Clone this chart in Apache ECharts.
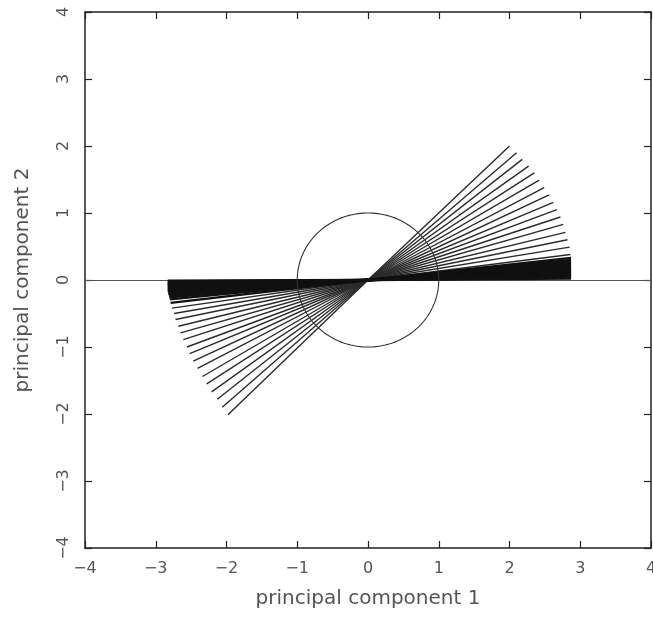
<!DOCTYPE html>
<html>
<head>
<meta charset="utf-8">
<script src="https://cdn.jsdelivr.net/npm/echarts@6/dist/echarts.min.js"></script>
<style>
  html, body { margin: 0; padding: 0; background: #fff; }
  #chart { width: 653px; height: 627px; }
</style>
</head>
<body>
<div id="chart"></div>
<script>
// axis ticks
var axisTicks = [-4, -3, -2, -1, 0, 1, 2, 3, 4];

// upper right fan: end points of the lines drawn from the origin
var upperX = [2.00, 2.10, 2.18, 2.27, 2.35, 2.42, 2.49, 2.56, 2.62, 2.67, 2.72, 2.76, 2.79, 2.82, 2.85, 2.86,
              2.87, 2.87, 2.87, 2.87, 2.87, 2.87, 2.87, 2.87, 2.87, 2.87, 2.87, 2.87, 2.87, 2.87,
              2.87, 2.87, 2.87, 2.87, 2.87, 2.87, 2.87, 2.87, 2.87, 2.87];
var upperY = [2.00, 1.90, 1.80, 1.70, 1.60, 1.49, 1.38, 1.27, 1.16, 1.05, 0.94, 0.83, 0.71, 0.60, 0.49, 0.38,
              0.33, 0.30, 0.28, 0.26, 0.245, 0.23, 0.215, 0.20, 0.185, 0.17, 0.16, 0.15, 0.14, 0.13,
              0.12, 0.11, 0.10, 0.09, 0.08, 0.07, 0.06, 0.05, 0.035, 0.02];

// lower left fan
var lowerX = [-1.98, -2.06, -2.13, -2.21, -2.28, -2.34, -2.41, -2.47, -2.52, -2.56, -2.61, -2.65, -2.68, -2.72, -2.74, -2.77, -2.79,
              -2.80, -2.81, -2.81, -2.82, -2.82, -2.82, -2.83, -2.83, -2.83, -2.83, -2.83, -2.83, -2.83, -2.83,
              -2.83, -2.83, -2.83, -2.83, -2.83];
var lowerY = [-2.01, -1.90, -1.78, -1.67, -1.55, -1.44, -1.32, -1.21, -1.10, -1.00, -0.89, -0.79, -0.69, -0.59, -0.50, -0.42, -0.34,
              -0.29, -0.26, -0.235, -0.215, -0.20, -0.185, -0.17, -0.155, -0.14, -0.125, -0.11, -0.095, -0.08, -0.07,
              -0.06, -0.05, -0.035, -0.02, -0.01];

// unit circle and zero line
var circleRadius = 1;
var zeroLine = [[-4, 0], [4, 0]];

var labelFont = 'DejaVu Sans';
var inkColor = '#222';
var textColor = '#555';

function buildFan(xs, ys) {
	var out = [];
	for (var i = 0; i < xs.length; i++) {
		// the near-horizontal lines print heavier in the original, they merge into a black band
		var flat = Math.abs(ys[i]) < 0.36;
		out.push({
			coords: [[0, 0], [xs[i], ys[i]]],
			lineStyle: { width: flat ? 2.3 : 1.4, color: flat ? '#111' : '#2b2b2b' }
		});
	}
	return out;
}

function makeAxis(pos, showLabel, isY) {
	var ax = {
		type: 'value',
		position: pos,
		min: axisTicks[0],
		max: axisTicks[axisTicks.length - 1],
		interval: 1,
		axisLine: { show: true, onZero: false, lineStyle: { color: inkColor, width: 1.5 } },
		axisTick: { show: true, inside: true, length: 7, lineStyle: { color: inkColor, width: 1.2 } },
		splitLine: { show: false },
		axisLabel: {
			show: showLabel,
			fontFamily: labelFont,
			fontSize: 16,
			color: textColor,
			margin: 13,
			showMinLabel: true,
			showMaxLabel: true,
			formatter: function (v) { return v < 0 ? '\u2212' + Math.abs(v) : String(v); }
		}
	};
	if (isY && showLabel) {
		ax.axisLabel.rotate = 90;
	}
	return ax;
}

var chart = echarts.init(document.getElementById('chart'), null, { renderer: 'canvas' });

var xBottom = makeAxis('bottom', true, false);
xBottom.name = 'principal component 1';
xBottom.nameLocation = 'middle';
xBottom.nameGap = 41;
xBottom.nameTextStyle = { fontFamily: labelFont, fontSize: 20, color: textColor };

var yLeft = makeAxis('left', true, true);
yLeft.name = 'principal component 2';
yLeft.nameLocation = 'middle';
yLeft.nameGap = 52;
yLeft.nameTextStyle = { fontFamily: labelFont, fontSize: 20, color: textColor };

var option = {
	backgroundColor: '#fff',
	animation: false,
	grid: { left: 85, right: 2, top: 12, bottom: 79, show: false, outerBoundsMode: 'none', containLabel: false },
	xAxis: [xBottom, makeAxis('top', false, false)],
	yAxis: [yLeft, makeAxis('right', false, true)],
	series: [
		{
			type: 'lines',
			coordinateSystem: 'cartesian2d',
			polyline: false,
			silent: true,
			lineStyle: { color: '#555', width: 1, opacity: 1 },
			data: [{ coords: zeroLine }]
		},
		{
			type: 'lines',
			coordinateSystem: 'cartesian2d',
			silent: true,
			lineStyle: { color: '#2b2b2b', width: 1.4, opacity: 1 },
			data: buildFan(upperX, upperY).concat(buildFan(lowerX, lowerY))
		},
		{
			// unit circle, drawn in data space so it follows the axis scales
			type: 'custom',
			coordinateSystem: 'cartesian2d',
			silent: true,
			data: [[0, 0, circleRadius]],
			renderItem: function (params, api) {
				var cx = api.value(0), cy = api.value(1), r = api.value(2);
				var pts = [];
				for (var k = 0; k <= 180; k++) {
					var a = k / 180 * Math.PI * 2;
					pts.push(api.coord([cx + r * Math.cos(a), cy + r * Math.sin(a)]));
				}
				return {
					type: 'polyline',
					shape: { points: pts },
					style: { stroke: '#333', lineWidth: 1.1, fill: null }
				};
			}
		}
	]
};

chart.setOption(option);
</script>
</body>
</html>
